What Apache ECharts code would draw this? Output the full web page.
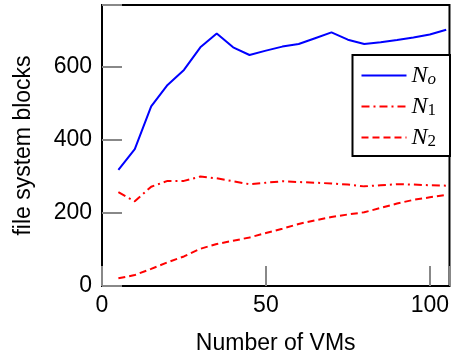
<!DOCTYPE html>
<html>
<head>
<meta charset="utf-8">
<script src="https://cdn.jsdelivr.net/npm/echarts@6/dist/echarts.min.js"></script>
<style>
  html, body { margin: 0; padding: 0; background: #fff; }
  #chartDiv { width: 452px; height: 360px; }
</style>
</head>
<body>
<div id="chartDiv"></div>
<script>
// number of VMs
var vms = [5, 10, 15, 20, 25, 30, 35, 40, 45, 50, 55, 60, 65, 70, 75, 80, 85, 90, 95, 100, 105];
// file system blocks
var nO = [318, 375, 492, 551, 592, 654, 692, 654, 633, 645, 656, 663, 679, 695, 675, 663, 668, 674, 681, 689, 702];
var n1 = [257, 232, 272, 288, 288, 300, 295, 287, 279, 283, 287, 285, 283, 281, 278, 273, 276, 279, 278, 276, 275];
var n2 = [21, 30, 47, 65, 81, 102, 115, 124, 133, 145, 157, 170, 180, 189, 196, 202, 214, 226, 236, 243, 250];

var xTicks = [0, 50, 100];
var yTicks = [0, 200, 400, 600];

function pairs(ys) {
	var out = [];
	for (var i = 0; i < vms.length; i++) {
		out.push([vms[i], ys[i]]);
	}
	return out;
}

var font = "'Liberation Sans', Arial, Helvetica, sans-serif";
var serif = "'Liberation Serif', 'Times New Roman', serif";

// label axis (no ticks) or tick axis (moved 10px into the plot, ticks pointing back to the frame)
function xAx(pos, labels) {
	return {
		type: 'value', position: pos, min: 0, max: 106, interval: 50,
		offset: labels ? 0 : -10,
		axisLine: { show: false },
		splitLine: { show: false },
		axisTick: { show: !labels, length: 10, lineStyle: { color: '#888888', width: 2 } },
		axisLabel: {
			show: labels, margin: 8, color: '#000', fontSize: 23, fontFamily: font,
			showMaxLabel: false,
			formatter: function(v) { return xTicks.indexOf(v) >= 0 ? String(v) : ''; }
		},
		name: labels ? 'Number of VMs' : '', nameLocation: 'middle', nameGap: 46,
		nameTextStyle: { color: '#000', fontSize: 23, fontFamily: font }
	};
}

function yAx(pos, labels) {
	return {
		type: 'value', position: pos, min: 0, max: 770, interval: 200,
		offset: labels ? 0 : -10,
		axisLine: { show: false },
		splitLine: { show: false },
		axisTick: { show: !labels, length: 10, lineStyle: { color: '#888888', width: 2 } },
		axisLabel: {
			show: labels, margin: 10, color: '#000', fontSize: 23, fontFamily: font,
			showMaxLabel: false,
			formatter: function(v) { return yTicks.indexOf(v) >= 0 ? String(v) : ''; }
		},
		name: labels ? 'file system blocks' : '', nameLocation: 'middle', nameGap: 67,
		nameTextStyle: { color: '#000', fontSize: 23, fontFamily: font }
	};
}

var chart = echarts.init(document.getElementById('chartDiv'));
chart.setOption({
	animation: false,
	backgroundColor: '#fff',
	grid: { left: 102, right: 1, top: 5, bottom: 73, show: true, borderColor: '#000', borderWidth: 2 },
	xAxis: [xAx('bottom', true), xAx('bottom', false), xAx('top', false)],
	yAxis: [yAx('left', true), yAx('left', false), yAx('right', false)],
	legend: {
		orient: 'vertical', right: 2, top: 55,
		backgroundColor: '#fff', borderColor: '#000', borderWidth: 2,
		padding: [8, 14, 6, 8], itemGap: 6, itemWidth: 45, itemHeight: 22,
		itemStyle: { color: 'rgba(0,0,0,0)', borderWidth: 0, opacity: 0 },
		data: ['No', 'N1', 'N2'],
		formatter: function(name) {
			var sub = name.slice(1);
			return '{n|N}{' + (sub === 'o' ? 'si' : 's') + '|' + sub + '}';
		},
		textStyle: {
			rich: {
				n: { fontFamily: serif, fontStyle: 'italic', fontSize: 24, lineHeight: 25, color: '#000' },
				s: { fontFamily: serif, fontSize: 17, lineHeight: 17, color: '#000', verticalAlign: 'bottom', padding: [8, 0, 0, 0] },
				si: { fontFamily: serif, fontStyle: 'italic', fontSize: 17, lineHeight: 17, color: '#000', verticalAlign: 'bottom', padding: [8, 0, 0, 0] }
			}
		}
	},
	series: [
		{ name: 'No', type: 'line', data: pairs(nO), showSymbol: false, symbol: 'none',
		  lineStyle: { color: '#0000ff', width: 2 }, itemStyle: { color: '#0000ff' } },
		{ name: 'N1', type: 'line', data: pairs(n1), showSymbol: false, symbol: 'none',
		  lineStyle: { color: '#ff0000', width: 2, type: [8, 4, 2, 4] }, itemStyle: { color: '#ff0000' } },
		{ name: 'N2', type: 'line', data: pairs(n2), showSymbol: false, symbol: 'none',
		  lineStyle: { color: '#ff0000', width: 2, type: [7, 4] }, itemStyle: { color: '#ff0000' } }
	]
});
</script>
</body>
</html>
